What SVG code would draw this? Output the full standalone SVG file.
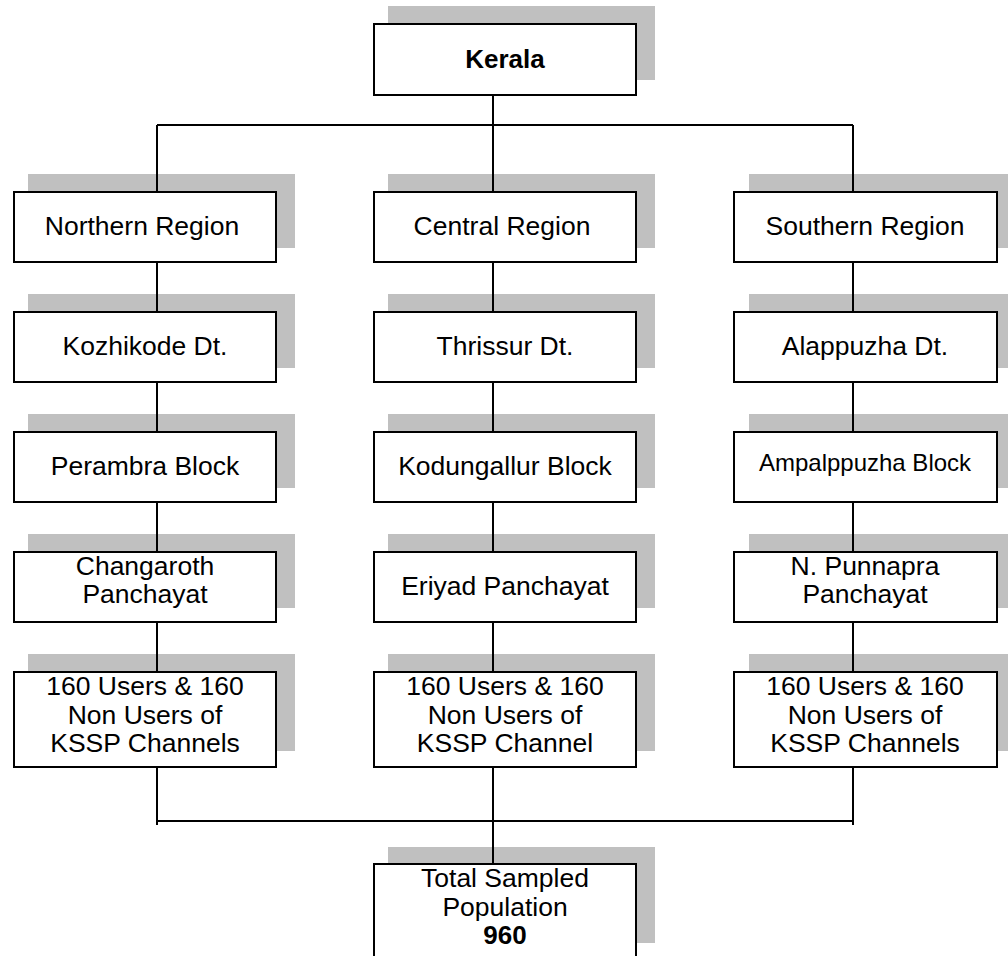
<svg xmlns="http://www.w3.org/2000/svg" width="1008" height="956" viewBox="0 0 1008 956">
<style>
.sh{fill:#c0c0c0}
.bx{fill:#fff;stroke:#000;stroke-width:2}
.t{font-family:"Liberation Sans",Arial,sans-serif;font-size:26.5px;fill:#000;text-anchor:middle}
.b{font-weight:bold;font-size:26px}
.s{font-size:24px}
.ln{stroke:#000;stroke-width:2;fill:none}
</style>
<rect width="1008" height="956" fill="#fff"/>
<g id="shadows">
<rect class="sh" x="388" y="6" width="267" height="74"/>
</g>
<g id="connectors">
<path class="ln" d="M493 95V125M157 125H853M157 125V191M493 125V191M853 125V191"/>
<path class="ln" d="M157 262V311M157 382V431M157 502V551M157 622V671M157 767V825"/>
<path class="ln" d="M493 262V311M493 382V431M493 502V551M493 622V671M493 767V863"/>
<path class="ln" d="M853 262V311M853 382V431M853 502V551M853 622V671M853 767V825"/>
<path class="ln" d="M157 821H853"/>
</g>
<g id="kerala">
<rect class="bx" x="374" y="24" width="262" height="71"/>
<text class="t b" x="505" y="68">Kerala</text>
</g>
<g id="northern">
<rect class="sh" x="28" y="174" width="267" height="74"/>
<path class="ln" d="M157 174V191"/>
<rect class="bx" x="14" y="192" width="262" height="70"/>
<text class="t" x="142" y="235">Northern Region</text>
</g>
<g id="central">
<rect class="sh" x="388" y="174" width="267" height="74"/>
<path class="ln" d="M493 174V191"/>
<rect class="bx" x="374" y="192" width="262" height="70"/>
<text class="t" x="502" y="235">Central Region</text>
</g>
<g id="southern">
<rect class="sh" x="749" y="174" width="267" height="74"/>
<path class="ln" d="M853 174V191"/>
<rect class="bx" x="734" y="192" width="263" height="70"/>
<text class="t" x="865" y="235">Southern Region</text>
</g>
<g id="kozhikode">
<rect class="sh" x="28" y="294" width="267" height="74"/>
<path class="ln" d="M157 294V311"/>
<rect class="bx" x="14" y="312" width="262" height="70"/>
<text class="t" x="145" y="355">Kozhikode Dt.</text>
</g>
<g id="thrissur">
<rect class="sh" x="388" y="294" width="267" height="74"/>
<path class="ln" d="M493 294V311"/>
<rect class="bx" x="374" y="312" width="262" height="70"/>
<text class="t" x="505" y="355">Thrissur Dt.</text>
</g>
<g id="alappuzha">
<rect class="sh" x="749" y="294" width="267" height="74"/>
<path class="ln" d="M853 294V311"/>
<rect class="bx" x="734" y="312" width="263" height="70"/>
<text class="t" x="865" y="355">Alappuzha Dt.</text>
</g>
<g id="perambra">
<rect class="sh" x="28" y="414" width="267" height="74"/>
<path class="ln" d="M157 414V431"/>
<rect class="bx" x="14" y="432" width="262" height="70"/>
<text class="t" x="145" y="475">Perambra Block</text>
</g>
<g id="kodungallur">
<rect class="sh" x="388" y="414" width="267" height="74"/>
<path class="ln" d="M493 414V431"/>
<rect class="bx" x="374" y="432" width="262" height="70"/>
<text class="t" x="505" y="475">Kodungallur Block</text>
</g>
<g id="ampalppuzha">
<rect class="sh" x="749" y="414" width="267" height="74"/>
<path class="ln" d="M853 414V431"/>
<rect class="bx" x="734" y="432" width="263" height="70"/>
<text class="t s" x="865" y="471">Ampalppuzha Block</text>
</g>
<g id="changaroth">
<rect class="sh" x="28" y="534" width="267" height="74"/>
<path class="ln" d="M157 534V551"/>
<rect class="bx" x="14" y="552" width="262" height="70"/>
<text class="t" x="145" y="575">Changaroth</text>
<text class="t" x="145" y="603">Panchayat</text>
</g>
<g id="eriyad">
<rect class="sh" x="388" y="534" width="267" height="74"/>
<path class="ln" d="M493 534V551"/>
<rect class="bx" x="374" y="552" width="262" height="70"/>
<text class="t" x="505" y="595">Eriyad Panchayat</text>
</g>
<g id="punnapra">
<rect class="sh" x="749" y="534" width="267" height="74"/>
<path class="ln" d="M853 534V551"/>
<rect class="bx" x="734" y="552" width="263" height="70"/>
<text class="t" x="865" y="575">N. Punnapra</text>
<text class="t" x="865" y="603">Panchayat</text>
</g>
<g id="users-north">
<rect class="sh" x="28" y="654" width="267" height="97"/>
<path class="ln" d="M157 654V671"/>
<rect class="bx" x="14" y="672" width="262" height="95"/>
<text class="t" x="145" y="695">160 Users &amp; 160</text>
<text class="t" x="145" y="724">Non Users of</text>
<text class="t" x="145" y="752">KSSP Channels</text>
</g>
<g id="users-central">
<rect class="sh" x="388" y="654" width="267" height="97"/>
<path class="ln" d="M493 654V671"/>
<rect class="bx" x="374" y="672" width="262" height="95"/>
<text class="t" x="505" y="695">160 Users &amp; 160</text>
<text class="t" x="505" y="724">Non Users of</text>
<text class="t" x="505" y="752">KSSP Channel</text>
</g>
<g id="users-south">
<rect class="sh" x="749" y="654" width="267" height="97"/>
<path class="ln" d="M853 654V671"/>
<rect class="bx" x="734" y="672" width="263" height="95"/>
<text class="t" x="865" y="695">160 Users &amp; 160</text>
<text class="t" x="865" y="724">Non Users of</text>
<text class="t" x="865" y="752">KSSP Channels</text>
</g>
<g id="total">
<rect class="sh" x="388" y="847" width="267" height="96"/>
<path class="ln" d="M493 847V863"/>
<rect class="bx" x="374" y="864" width="262" height="95"/>
<text class="t" x="505" y="887">Total Sampled</text>
<text class="t" x="505" y="916">Population</text>
<text class="t b" x="505" y="944">960</text>
</g>
</svg>
